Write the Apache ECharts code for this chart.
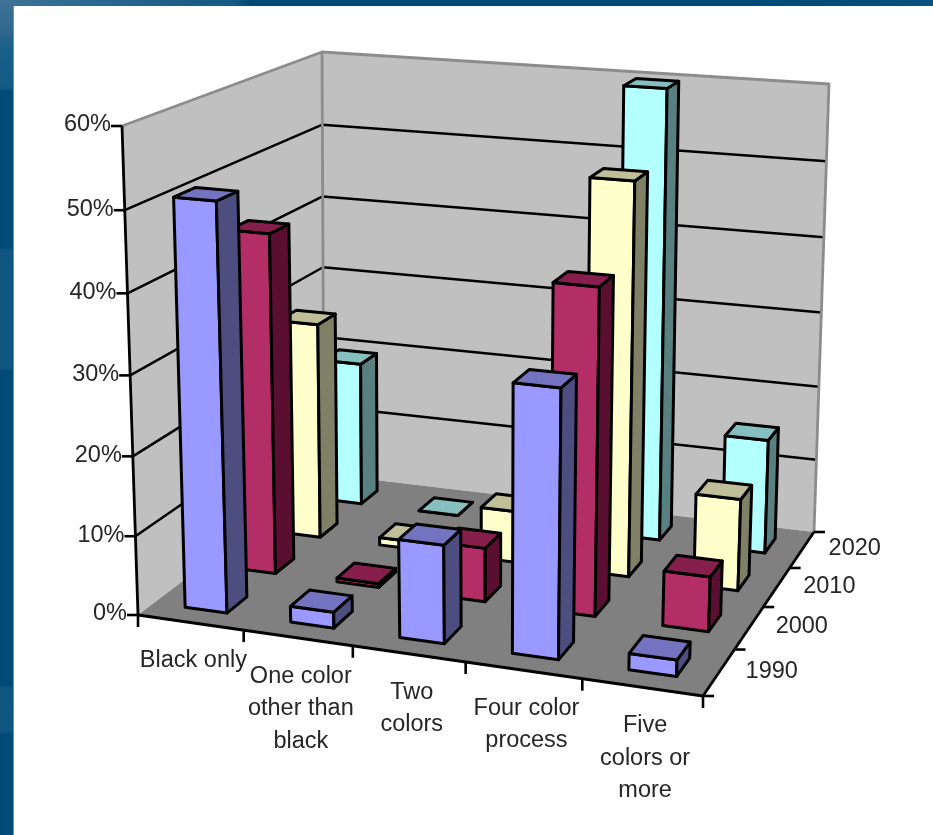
<!DOCTYPE html>
<html><head><meta charset="utf-8">
<style>html,body{margin:0;padding:0;background:#fff}#c{width:933px;height:835px}</style>
<script src="https://cdn.jsdelivr.net/npm/echarts@6/dist/echarts.min.js"></script>
</head><body><div id="c"></div>
<script>
const categories = ['Black only','One color\nother than\nblack','Two\ncolors','Four color\nprocess','Five\ncolors or\nmore'];
const years = ['1990','2000','2010','2020'];
const values1990 = [51, 2, 12.2, 32.8, 2];
const values2000 = [43.9, 0.5, 6.9, 41.1, 6.9];
const values2010 = [28.8, 1, 6.8, 50.9, 11.9];
const values2020 = [19.7, 0, 0, 59.9, 15.2];
const valueTicks = [0,10,20,30,40,50,60];

const W = 933, H = 835;
const chart = echarts.init(document.getElementById('c'), null, {renderer:'canvas', width:W, height:H});
const FONT = '"Liberation Sans", Arial, sans-serif';
const FS = 23.5, TXT = '#262626';

// perspective box: floor and ceiling quads (front-left, front-right, back-right, back-left)
const floorQ = [[138,615],[703,696],[814,532],[324,474]];
const topQ   = [[122,126],[721,175],[829,84],[322,52]];
function homog(q){
  const [[x0,y0],[x1,y1],[x2,y2],[x3,y3]] = q;
  const dx1=x1-x2, dx2=x3-x2, sx=x0-x1+x2-x3, dy1=y1-y2, dy2=y3-y2, sy=y0-y1+y2-y3;
  const d=dx1*dy2-dx2*dy1, g=(sx*dy2-dx2*sy)/d, h=(dx1*sy-sx*dy1)/d;
  const a=x1-x0+g*x1, b=x3-x0+h*x3, e=y1-y0+g*y1, f=y3-y0+h*y3;
  return (u,v)=>{const w=g*u+h*v+1;return [(a*u+b*v+x0)/w,(e*u+f*v+y0)/w];};
}
const hF=homog(floorQ), hT=homog(topQ);
const nC=categories.length, nS=years.length;
// u: category units, v: series units, t: 0..1 height (slight foreshortening along the vertical)
function P(u,v,t){
  const a=hF(u/nC,v/nS), b=hT(u/nC,v/nS), k=t-0.04*t*(1-t);
  return [a[0]+(b[0]-a[0])*k, a[1]+(b[1]-a[1])*k];
}
const BAR = 0.4;
const FACE = [
  {f:'#9999FF',s:'#4D4D80',t:'#7373BF'},
  {f:'#B32D66',s:'#5A0F30',t:'#861F4C'},
  {f:'#FFFFCC',s:'#808066',t:'#BFBF99'},
  {f:'#B3FFFF',s:'#598080',t:'#86BFBF'}
];
const LW = 3;
function poly(points,fill,lw,stroke){
  return {type:'polygon',silent:true,shape:{points},style:{fill,stroke:stroke||'#000',lineWidth:lw===undefined?LW:lw,lineJoin:'round'}};
}
function line(points,stroke,lw){
  return {type:'polyline',silent:true,shape:{points},style:{fill:null,stroke,lineWidth:lw,lineJoin:'round',lineCap:'butt'}};
}
function text(x,y,str,align,vAlign,lh){
  return {type:'text',silent:true,x,y,style:{text:str,font:FS+'px '+FONT,fill:TXT,align,verticalAlign:vAlign,lineHeight:lh||undefined}};
}
function barItem(sIdx){
  return function(params,api){
    const p=api.coord([api.value(0),api.value(1)]);
    const u=p[0]/W*nC, t=1-p[1]/H, v=sIdx+.5;
    const u0=u-BAR/2,u1=u+BAR/2,v0=v-BAR/2,v1=v+BAR/2;
    const c=FACE[sIdx];
    return {type:'group',children:[
      poly([P(u0,v0,0),P(u1,v0,0),P(u1,v0,t),P(u0,v0,t)],c.f),
      poly([P(u1,v0,0),P(u1,v1,0),P(u1,v1,t),P(u1,v0,t)],c.s),
      poly([P(u0,v0,t),P(u1,v0,t),P(u1,v1,t),P(u0,v1,t)],c.t)
    ]};
  };
}
function tOf(val,api){return 1-api.coord([0,val])[1]/H;}
function sceneItem(params,api){
  const kids=[];
  kids.push(poly([P(0,0,0),P(0,nS,0),P(0,nS,1),P(0,0,1)],'#C0C0C0',0,'transparent'));
  kids.push(poly([P(0,nS,0),P(nC,nS,0),P(nC,nS,1),P(0,nS,1)],'#C0C0C0',0,'transparent'));
  kids.push(poly([P(0,0,0),P(nC,0,0),P(nC,nS,0),P(0,nS,0)],'#808080',0,'transparent'));
  valueTicks.slice(1,-1).forEach(val=>{
    const t=tOf(val,api);
    kids.push(line([P(0,0,t),P(0,nS,t),P(nC,nS,t)],'#000',2.5));
  });
  kids.push(line([P(0,0,1),P(0,nS,1),P(nC,nS,1),P(nC,nS,0)],'#8C8C8C',2.8));
  kids.push(line([P(0,nS,1),P(0,nS,0)],'#8C8C8C',2.8));
  // axes
  kids.push(line([P(0,0,1),P(0,0,0),P(nC,0,0),P(nC,nS,0)],'#000',2.8));
  valueTicks.forEach(val=>{
    const p=P(0,0,tOf(val,api));
    kids.push(line([[p[0]-11,p[1]],p],'#000',2.6));
    kids.push(text(p[0]-11,p[1]-1,val+'%','right','middle'));
  });
  for(let i=0;i<=nC;i++){const p=P(i,0,0);kids.push(line([p,[p[0],p[1]+12]],'#000',2.6));}
  for(let i=0;i<=nS;i++){const p=P(nC,i,0);kids.push(line([p,[p[0]+11,p[1]]],'#000',2.6));}
  categories.forEach((c,i)=>{
    const p=P(i+.5,0,0);
    kids.push(text(p[0]+3,p[1]+22,c,'center','top',32.5));
  });
  years.forEach((y,i)=>{
    const p=P(nC,i+.5,0);
    kids.push(text(p[0]+26.5,p[1]-1,y,'left','middle'));
  });
  return {type:'group',children:kids};
}
const dark='#004A78', mid='#0F5580';
const frame = [
 {type:'rect',silent:true,z:-10,shape:{x:0,y:0,width:13,height:H},style:{fill:new echarts.graphic.LinearGradient(0,0,0,1,[
   {offset:0,color:'#3F7396'},{offset:.03,color:'#34698E'},{offset:.06,color:'#1A5F88'},{offset:.105,color:'#145A84'},{offset:.11,color:dark},
   {offset:.295,color:dark},{offset:.3,color:mid},{offset:.44,color:mid},{offset:.445,color:dark},{offset:.82,color:dark},{offset:.825,color:mid},{offset:.875,color:mid},{offset:.88,color:dark},{offset:1,color:dark}])}},
 {type:'rect',silent:true,z:-10,shape:{x:13,y:6,width:1,height:H-6},style:{fill:'#6A93AD'}},
 {type:'rect',silent:true,z:-10,shape:{x:0,y:0,width:W,height:6},style:{fill:new echarts.graphic.LinearGradient(0,0,1,0,[
   {offset:0,color:'#3F7396'},{offset:.1,color:'#2A6890'},{offset:.25,color:'#145A84'},{offset:.27,color:dark},{offset:.8,color:dark},{offset:1,color:'#0A5080'}])}}
];
const seriesData = [values1990,values2000,values2010,values2020];
const series = [{type:'custom',coordinateSystem:'cartesian2d',clip:false,silent:true,animation:false,data:[[0,0]],renderItem:sceneItem,z:1}];
for(let s=nS-1;s>=0;s--){
  series.push({type:'custom',name:years[s],coordinateSystem:'cartesian2d',clip:false,silent:true,animation:false,
    data:seriesData[s].map((v,i)=>[i,v]),renderItem:barItem(s),z:2+(nS-s)});
}
chart.setOption({
  animation:false,backgroundColor:'#fff',
  grid:{left:0,right:0,top:0,bottom:0},
  xAxis:{type:'category',data:categories,show:false},
  yAxis:{type:'value',min:0,max:60,interval:10,show:false},
  graphic:frame,
  series
});
</script></body></html>
